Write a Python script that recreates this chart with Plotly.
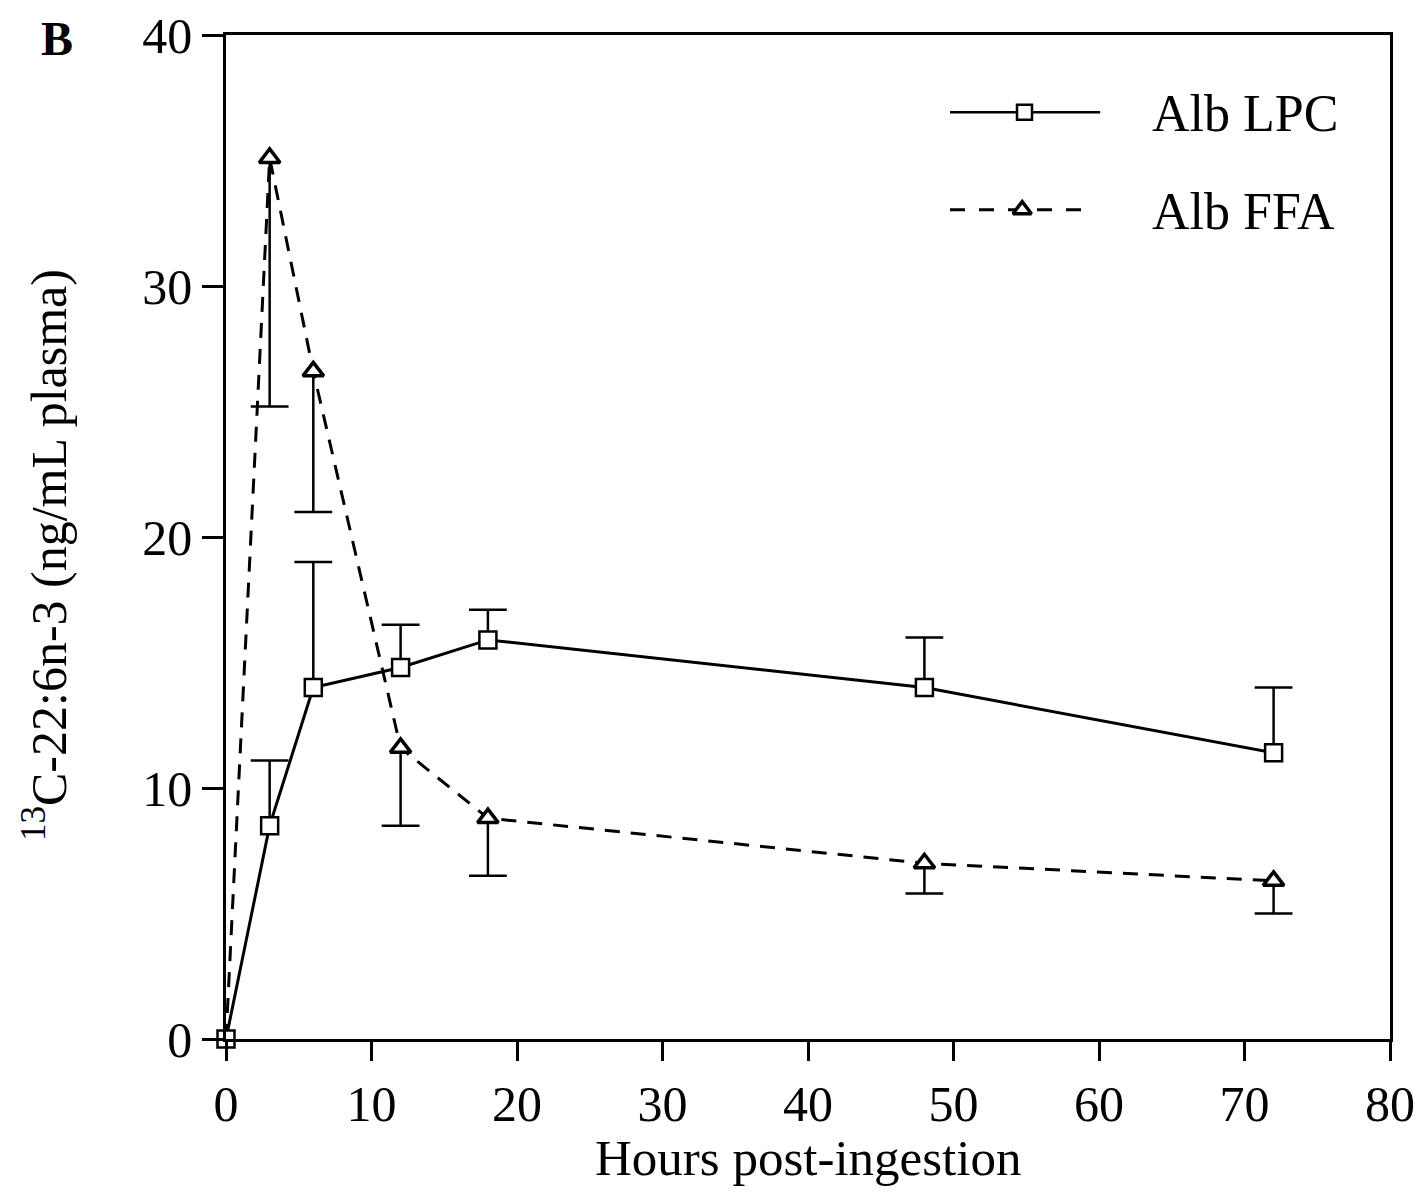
import plotly.graph_objects as go

# ---- data ----
hours = [0, 3, 6, 12, 18, 48, 72]
lpc_mean = [0, 8.5, 14.0, 14.8, 15.9, 14.0, 11.4]
lpc_upper = [None, 11.1, 19.0, 16.5, 17.1, 16.0, 14.0]   # top of error bar
ffa_mean = [0, 35.1, 26.6, 11.6, 8.8, 7.0, 6.3]
ffa_lower = [None, 25.2, 21.0, 8.5, 6.5, 5.8, 5.0]       # bottom of error bar
x_ticks = [0, 10, 20, 30, 40, 50, 60, 70, 80]
y_ticks = [0, 10, 20, 30, 40]
series_names = ["Alb LPC", "Alb FFA"]

FONT = "Liberation Serif"
BLK = "black"

fig = go.Figure()

def err_segments(xs, means, ends):
    sx, sy, cx, cy = [], [], [], []
    for x, m, e in zip(xs, means, ends):
        if e is None:
            continue
        sx += [x, x, None]
        sy += [m, e, None]
        cx.append(x)
        cy.append(e)
    return sx, sy, cx, cy

# error bars LPC (upper)
sx, sy, cx, cy = err_segments(hours, lpc_mean, lpc_upper)
fig.add_trace(go.Scatter(x=sx, y=sy, mode="lines", line=dict(color=BLK, width=2.5),
                         showlegend=False, hoverinfo="skip", cliponaxis=False))
fig.add_trace(go.Scatter(x=cx, y=cy, mode="markers",
                         marker=dict(symbol="line-ew", size=27, line=dict(color=BLK, width=2.5)),
                         showlegend=False, hoverinfo="skip", cliponaxis=False))
# error bars FFA (lower)
sx, sy, cx, cy = err_segments(hours, ffa_mean, ffa_lower)
fig.add_trace(go.Scatter(x=sx, y=sy, mode="lines", line=dict(color=BLK, width=2.5),
                         showlegend=False, hoverinfo="skip", cliponaxis=False))
fig.add_trace(go.Scatter(x=cx, y=cy, mode="markers",
                         marker=dict(symbol="line-ew", size=27, line=dict(color=BLK, width=2.5)),
                         showlegend=False, hoverinfo="skip", cliponaxis=False))

# FFA series: dashed line, then markers as a separate (undashed) trace
fig.add_trace(go.Scatter(x=hours, y=ffa_mean, mode="lines", name=series_names[1],
                         line=dict(color=BLK, width=3, dash="15px,11px"),
                         showlegend=False, cliponaxis=False))
fig.add_trace(go.Scatter(x=hours[1:], y=ffa_mean[1:], mode="markers", name=series_names[1],
                         marker=dict(symbol="triangle-up", size=18, color="white",
                                     line=dict(color=BLK, width=3.5)),
                         showlegend=False, cliponaxis=False))
# LPC series
fig.add_trace(go.Scatter(x=hours, y=lpc_mean, mode="lines+markers", name=series_names[0],
                         line=dict(color=BLK, width=3),
                         marker=dict(symbol="square", size=17, color="white",
                                     line=dict(color=BLK, width=2.5)),
                         showlegend=False, cliponaxis=False))

# ---- manual legend on an overlay axis in paper-like coords ----
fig.add_trace(go.Scatter(x=[0.622, 0.751], y=[0.923, 0.923], mode="lines",
                         line=dict(color=BLK, width=2.5), xaxis="x2", yaxis="y2",
                         showlegend=False, hoverinfo="skip"))
fig.add_trace(go.Scatter(x=[0.686], y=[0.923], mode="markers",
                         marker=dict(symbol="square", size=15, color="white",
                                     line=dict(color=BLK, width=2.5)),
                         xaxis="x2", yaxis="y2", showlegend=False, hoverinfo="skip"))
fig.add_trace(go.Scatter(x=[0.622, 0.739], y=[0.826, 0.826], mode="lines",
                         line=dict(color=BLK, width=3, dash="15px,14px"), xaxis="x2", yaxis="y2",
                         showlegend=False, hoverinfo="skip"))
fig.add_trace(go.Scatter(x=[0.684], y=[0.826], mode="markers",
                         marker=dict(symbol="triangle-up", size=16, color="white",
                                     line=dict(color=BLK, width=3.5)),
                         xaxis="x2", yaxis="y2", showlegend=False, hoverinfo="skip"))

fig.update_layout(
    width=1420, height=1198,
    margin=dict(l=226, r=30, t=35, b=159),
    paper_bgcolor="white", plot_bgcolor="white",
    font=dict(family=FONT, size=50, color=BLK),
    showlegend=False,
    xaxis=dict(range=[0, 80], tickvals=x_ticks, ticks="outside", ticklen=19, tickwidth=2.5,
               tickcolor=BLK, showline=True, linewidth=2.5, linecolor=BLK, mirror=True,
               showgrid=False, zeroline=False, tickfont=dict(size=50), automargin=False),
    yaxis=dict(range=[0, 40], tickvals=y_ticks, ticks="outside", ticklen=21, tickwidth=2.5,
               tickcolor=BLK, showline=True, linewidth=2.5, linecolor=BLK, mirror=True,
               showgrid=False, zeroline=False, tickfont=dict(size=50), automargin=False),
    xaxis2=dict(domain=[0, 1], range=[0, 1], visible=False, anchor="y2", overlaying="x"),
    yaxis2=dict(domain=[0, 1], range=[0, 1], visible=False, anchor="x2", overlaying="y"),
    annotations=[
        dict(text=series_names[0], xref="paper", yref="paper", x=(1150 - 226) / 1164,
             y=(1039 - 113) / 1004, xanchor="left", yanchor="middle", showarrow=False,
             font=dict(size=52)),
        dict(text=series_names[1], xref="paper", yref="paper", x=(1150 - 226) / 1164,
             y=(1039 - 212) / 1004, xanchor="left", yanchor="middle", showarrow=False,
             font=dict(size=52)),
        dict(text="Hours post-ingestion", xref="paper", yref="paper", x=0.5,
             y=(1039 - 1158) / 1004, xanchor="center", yanchor="middle", showarrow=False,
             font=dict(size=51)),
        dict(text="<sup>13</sup>C-22:6n-3 (ng/mL plasma)", xref="paper", yref="paper",
             x=(45 - 226) / 1164, y=(1039 - 555) / 1004, xanchor="center", yanchor="middle",
             textangle=-90, showarrow=False, font=dict(size=50)),
        dict(text="<b>B</b>", xref="paper", yref="paper", x=(57 - 226) / 1164,
             y=(1039 - 38) / 1004, xanchor="center", yanchor="middle", showarrow=False,
             font=dict(size=48)),
    ],
)

fig.write_html("out.html")
